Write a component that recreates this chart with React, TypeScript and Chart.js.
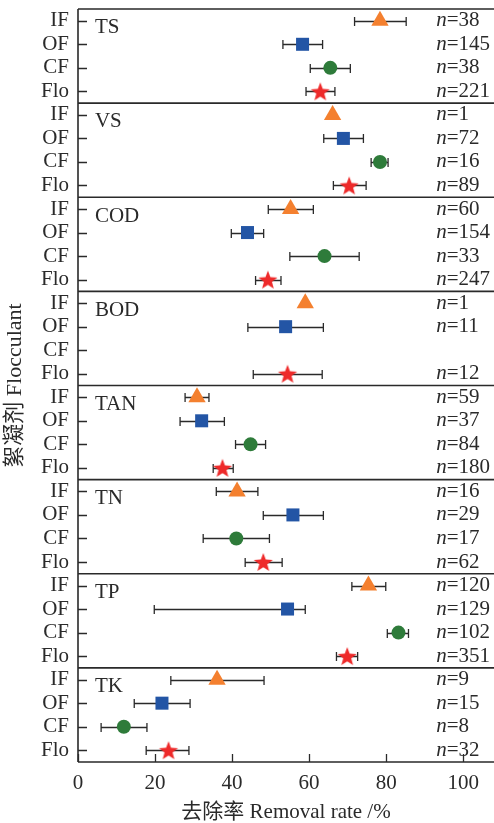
import React, { useEffect, useRef } from 'react';
import { Chart, registerables } from 'chart.js';

Chart.register(...registerables);

const parameters = ['TS', 'VS', 'COD', 'BOD', 'TAN', 'TN', 'TP', 'TK'];
const flocculants = ['IF', 'OF', 'CF', 'Flo'];

const ifMean = [78.4, 66.1, 55.2, 59.0, 30.9, 41.3, 75.4, 36.1];
const ifLow = [71.8, null, 49.4, null, 27.8, 35.9, 71.1, 24.1];
const ifHigh = [85.2, null, 61.1, null, 34.0, 46.7, 79.9, 48.3];
const ifN = [38, 1, 60, 1, 59, 16, 120, 9];

const ofMean = [58.3, 68.9, 44.0, 53.9, 32.1, 55.8, 54.4, 21.8];
const ofLow = [53.2, 63.8, 39.8, 44.1, 26.5, 48.1, 19.8, 14.6];
const ofHigh = [63.5, 74.1, 48.2, 63.7, 38.0, 63.7, 59.0, 29.1];
const ofN = [145, 72, 154, 11, 37, 29, 129, 15];

const cfMean = [65.5, 78.4, 64.0, null, 44.8, 41.1, 83.2, 11.9];
const cfLow = [60.3, 76.1, 55.0, null, 40.9, 32.5, 80.3, 6.0];
const cfHigh = [70.7, 80.5, 73.0, null, 48.7, 49.7, 85.8, 17.9];
const cfN = [38, 16, 33, null, 84, 17, 102, 8];

const floMean = [62.9, 70.4, 49.3, 54.4, 37.5, 48.1, 69.9, 23.5];
const floLow = [59.2, 66.3, 46.1, 45.5, 35.1, 43.4, 67.1, 17.7];
const floHigh = [66.7, 74.8, 52.7, 63.4, 40.3, 53.0, 72.6, 28.8];
const floN = [221, 89, 247, 12, 180, 62, 351, 32];

const xTickValues = [0, 20, 40, 60, 80, 100];

const FONT = "'Liberation Serif', 'Noto Sans CJK SC', serif";
const INK = '#2a2a2a';

const series = [
  { mean: ifMean, low: ifLow, high: ifHigh, n: ifN, color: '#F4802F', style: 'triangle', radius: 10 },
  { mean: ofMean, low: ofLow, high: ofHigh, n: ofN, color: '#2355A5', style: 'rect', radius: 9.2 },
  { mean: cfMean, low: cfLow, high: cfHigh, n: cfN, color: '#2E7B3A', style: 'circle', radius: 7 },
  { mean: floMean, low: floLow, high: floHigh, n: floN, color: '#EE2A2A', style: 'star', radius: 10 },
];

function makeStar(color: string, r: number) {
  const c = document.createElement('canvas');
  const s = Math.ceil(r * 2 + 2);
  c.width = s;
  c.height = s;
  const ctx = c.getContext('2d')!;
  ctx.fillStyle = color;
  ctx.beginPath();
  for (let i = 0; i < 10; i++) {
    const rad = i % 2 === 0 ? r : r * 0.42;
    const a = -Math.PI / 2 + (i * Math.PI) / 5;
    const px = s / 2 + rad * Math.cos(a);
    const py = s / 2 + 1 + rad * Math.sin(a);
    if (i === 0) ctx.moveTo(px, py);
    else ctx.lineTo(px, py);
  }
  ctx.closePath();
  ctx.fill();
  return c;
}

const rowValue = (p: number, f: number) => p * 4 + f + 0.5;

const decor = {
  id: 'decor',
  beforeDatasetsDraw(chart: any) {
    const { ctx, scales } = chart;
    const x = scales.x;
    const y = scales.y;
    ctx.save();
    ctx.strokeStyle = INK;
    ctx.lineWidth = 1.3;
    series.forEach((s, f) => {
      parameters.forEach((_, p) => {
        const lo = s.low[p];
        const hi = s.high[p];
        if (lo == null || hi == null) return;
        const py = Math.round(y.getPixelForValue(rowValue(p, f))) + 0.5;
        const x1 = x.getPixelForValue(lo);
        const x2 = x.getPixelForValue(hi);
        ctx.beginPath();
        ctx.moveTo(x1, py);
        ctx.lineTo(x2, py);
        ctx.moveTo(x1, py - 4.5);
        ctx.lineTo(x1, py + 4.5);
        ctx.moveTo(x2, py - 4.5);
        ctx.lineTo(x2, py + 4.5);
        ctx.stroke();
      });
    });
    ctx.restore();
  },
  afterDraw(chart: any) {
    const { ctx, chartArea: a, scales } = chart;
    const x = scales.x;
    const y = scales.y;
    ctx.save();
    ctx.strokeStyle = INK;
    ctx.lineWidth = 1.6;
    ctx.beginPath();
    ctx.moveTo(a.left, a.top);
    ctx.lineTo(a.left, a.bottom);
    for (let p = 0; p <= parameters.length; p++) {
      const py = y.getPixelForValue(p * 4);
      ctx.moveTo(a.left, py);
      ctx.lineTo(a.right, py);
    }
    ctx.stroke();
    ctx.lineWidth = 1.3;
    ctx.beginPath();
    parameters.forEach((_, p) => {
      flocculants.forEach((__, f) => {
        const py = Math.round(y.getPixelForValue(rowValue(p, f))) + 0.5;
        ctx.moveTo(a.left, py);
        ctx.lineTo(a.left + 9, py);
      });
    });
    xTickValues.forEach((v) => {
      const px = Math.round(x.getPixelForValue(v)) + 0.5;
      ctx.moveTo(px, a.bottom);
      ctx.lineTo(px, a.bottom - 8);
    });
    ctx.stroke();
    ctx.fillStyle = INK;
    ctx.textBaseline = 'middle';
    ctx.textAlign = 'left';
    ctx.font = `21px ${FONT}`;
    parameters.forEach((name, p) => {
      ctx.fillText(name, x.getPixelForValue(4.4), y.getPixelForValue(p * 4 + 0.8));
    });
    series.forEach((s, f) => {
      parameters.forEach((_, p) => {
        const n = s.n[p];
        if (n == null) return;
        const px = x.getPixelForValue(93);
        const py = y.getPixelForValue(rowValue(p, f));
        ctx.font = `italic 21px ${FONT}`;
        ctx.fillText('n', px, py);
        const w = ctx.measureText('n').width;
        ctx.font = `21px ${FONT}`;
        ctx.fillText('=' + n, px + w, py);
      });
    });
    ctx.restore();
  },
};

export default function App() {
  const ref = useRef<HTMLCanvasElement>(null);
  useEffect(() => {
    if (!ref.current) return;
    const datasets = series.map((s, f) => ({
      label: flocculants[f],
      data: parameters
        .map((_, p) => (s.mean[p] == null ? null : { x: s.mean[p], y: rowValue(p, f) }))
        .filter((d) => d !== null),
      pointStyle: s.style === 'star' ? makeStar(s.color, s.radius) : s.style,
      pointRadius: s.radius,
      pointBackgroundColor: s.color,
      pointBorderColor: s.color,
      pointBorderWidth: 0,
      showLine: false,
    }));
    const chart = new Chart(ref.current, {
      type: 'scatter',
      data: { datasets: datasets as any },
      options: {
        animation: false,
        responsive: false,
        maintainAspectRatio: false,
        layout: { autoPadding: false, padding: { top: 9, left: 0, right: 0, bottom: 0 } },
        plugins: { legend: { display: false }, tooltip: { enabled: false } },
        scales: {
          x: {
            type: 'linear',
            min: 0,
            max: 108,
            grid: { display: false, drawTicks: false },
            border: { display: false },
            afterBuildTicks: (scale: any) => {
              scale.ticks = xTickValues.map((v) => ({ value: v }));
            },
            afterFit: (scale: any) => {
              scale.height = 61;
              scale.paddingLeft = 0;
              scale.paddingRight = 0;
            },
            ticks: {
              color: INK,
              font: { family: FONT, size: 21 },
              padding: 9,
              maxRotation: 0,
              autoSkip: false,
            },
            title: {
              display: true,
              text: '去除率 Removal rate /%',
              color: INK,
              font: { family: FONT, size: 21, lineHeight: 1 },
              padding: { top: 0, bottom: 0 },
            },
          },
          y: {
            type: 'linear',
            min: 0,
            max: 32,
            reverse: true,
            grid: { display: false, drawTicks: false },
            border: { display: false },
            afterBuildTicks: (scale: any) => {
              const t: any[] = [];
              parameters.forEach((_, p) => flocculants.forEach((__, f) => t.push({ value: rowValue(p, f) })));
              scale.ticks = t;
            },
            afterFit: (scale: any) => {
              scale.width = 78;
              scale.paddingTop = 0;
              scale.paddingBottom = 0;
            },
            ticks: {
              color: INK,
              font: { family: FONT, size: 21 },
              padding: 9,
              autoSkip: false,
              callback: (v: any) => flocculants[Math.floor(Number(v)) % 4],
            },
            title: {
              display: true,
              text: '絮凝剂 Flocculant',
              color: INK,
              font: { family: FONT, size: 22, lineHeight: 1 },
              padding: { top: 4, bottom: 0 },
            },
          },
        },
      },
      plugins: [decor],
    });
    return () => chart.destroy();
  }, []);
  return (
    <div style={{ position: 'absolute', left: 0, top: 0, width: 494, height: 823, overflow: 'hidden', background: '#fff' }}>
      <canvas ref={ref} width={494} height={823} style={{ width: 494, height: 823, display: 'block' }} />
    </div>
  );
}
